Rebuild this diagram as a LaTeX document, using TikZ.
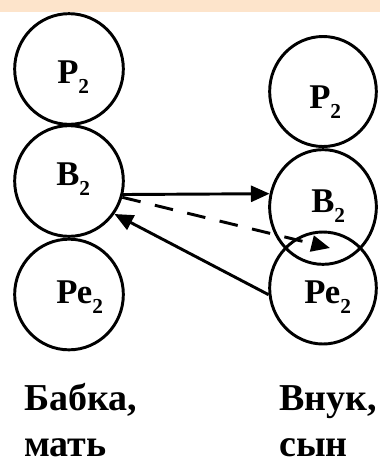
\documentclass[tikz,border=0pt]{standalone}
\usepackage{fontspec}
\setmainfont{Liberation Serif}
\newfontfamily\tms{Liberation Serif}[BoldFont={* Bold}]
\definecolor{band}{RGB}{253,228,203}
\usetikzlibrary{arrows.meta,shapes.geometric}
\newcommand{\gen}[1]{\raisebox{-8pt}{\fontsize{16}{16}\selectfont\tms\bfseries #1}}
\tikzset{
  ball/.style={draw, ellipse, line width=2.2pt, inner sep=0pt,
              minimum width=81.5pt, minimum height=83pt},
  sym/.style={anchor=base west, inner sep=0pt, font=\tms\bfseries\fontsize{26}{26}\selectfont},
  who/.style={anchor=base west, inner sep=0pt, align=left,
              font=\tms\bfseries\fontsize{28.5}{34}\selectfont},
  link/.style={-{Triangle[length=14pt,width=12pt]}, line width=2.2pt},
  guess/.style={link, dash pattern=on 14pt off 11pt},
}

\begin{document}
\begin{tikzpicture}[x=0.75pt,y=-0.75pt]
        \useasboundingbox (0,0) rectangle (380,462);
        \fill[band] (0,0) rectangle (380,12);

        \node[ball] (lP)  at (69,69)    {};
        \node[ball] (lB)  at (69,181)   {};
        \node[ball] (lPe) at (69,294.5) {};
        \node[ball, minimum width=80pt, minimum height=82.5pt] (rP)  at (323,91.5) {};
        \node[ball, minimum width=80pt, minimum height=86pt]   (rB)  at (323,207)  {};
        \node[ball, minimum width=80pt, minimum height=84pt]   (rPe) at (323,288)  {};

        \node[sym] (lPt)  at (57,83)   {Р\gen{2}};
        \node[sym] (lBt)  at (56,185)  {В\gen{2}};
        \node[sym] (lPet) at (56,303)  {Ре\gen{2}};
        \node[sym] (rPt)  at (309,108) {Р\gen{2}};
        \node[sym] (rBt)  at (311,212) {В\gen{2}};
        \node[sym] (rPet) at (304,303) {Ре\gen{2}};

        \node[who] (gran) at (24,456)  {Бабка,\\мать};
        \node[who] (son)  at (279,456) {Внук,\\сын};

        \coordinate (mix) at (330,248);
        \draw[link]  (lB.-14) -- (rB.166);
        \draw[guess] (lB.-17) -- (mix);
        \draw[link]  (rPe.187) -- (lB.-36);
\end{tikzpicture}
\end{document}
